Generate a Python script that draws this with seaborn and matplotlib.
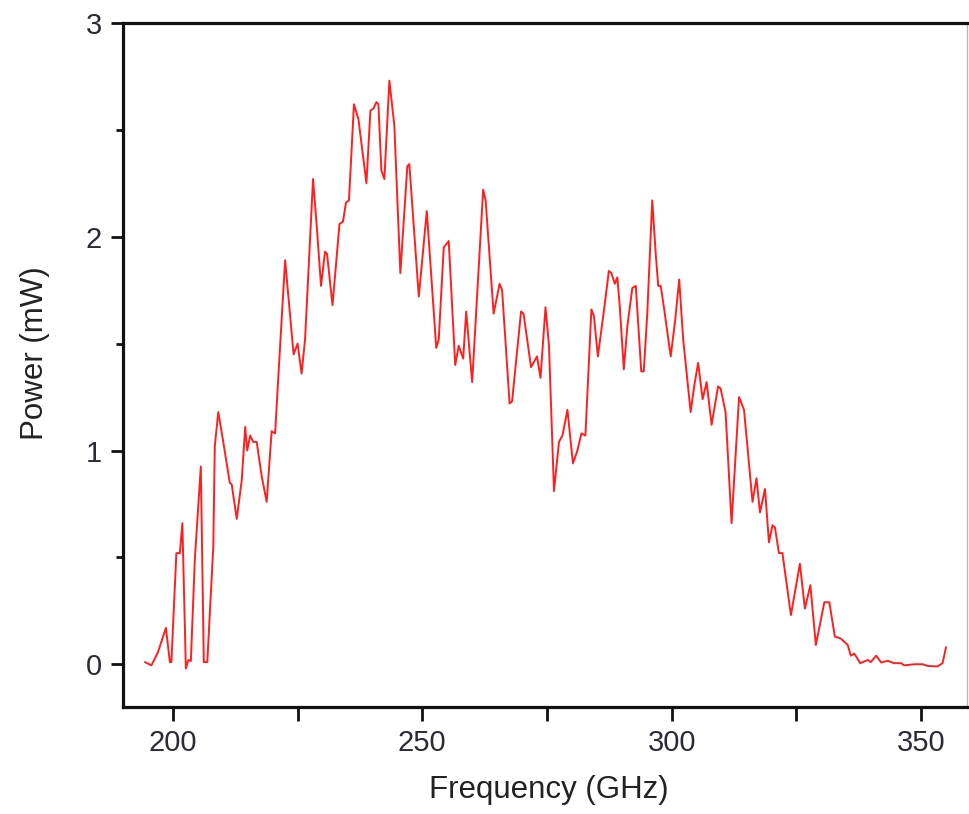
import matplotlib
matplotlib.use("Agg")
import matplotlib.pyplot as plt
import seaborn as sns
import pandas as pd
from matplotlib.ticker import MultipleLocator

# ---- data ----
freq_ghz = [194.4, 195.7, 197.0, 198.6, 199.4, 199.7, 200.7, 201.4, 201.9, 202.6,
            203.1, 203.6, 204.4, 205.6, 206.2, 206.9, 208.1, 208.4, 209.1, 210.1,
            211.4, 211.8, 212.8, 213.8, 214.5, 214.9, 215.5, 216.1, 216.8, 217.8,
            218.8, 219.8, 220.5, 221.1, 222.5, 224.2, 225.0, 225.8, 226.5, 228.1,
            228.9, 229.7, 230.5, 230.9, 232.0, 233.4, 234.1, 234.7, 235.3, 236.3,
            237.2, 238.8, 239.6, 240.2, 240.8, 241.2, 241.8, 242.4, 243.4, 244.4,
            245.6, 247.0, 247.4, 249.3, 250.9, 252.8, 253.3, 254.3, 255.3, 256.6,
            257.3, 258.2, 258.8, 260.0, 262.2, 262.7, 264.3, 265.5, 266.0, 267.5,
            268.0, 269.8, 270.3, 271.8, 273.0, 273.7, 274.7, 275.4, 276.4, 277.4,
            278.1, 279.1, 280.2, 281.1, 281.9, 282.7, 283.9, 284.4, 285.2, 286.5,
            287.4, 287.9, 288.6, 289.1, 289.6, 290.4, 291.1, 292.1, 292.8, 293.9,
            294.4, 295.1, 296.1, 296.8, 297.3, 297.8, 298.5, 299.8, 300.7, 301.5,
            302.3, 303.8, 304.5, 305.3, 306.2, 307.0, 308.0, 309.3, 309.8, 310.8,
            312.0, 313.5, 314.5, 316.2, 317.0, 317.7, 318.7, 319.5, 320.2, 320.7,
            321.5, 322.2, 323.9, 325.7, 326.7, 327.8, 328.9, 330.6, 331.6, 332.7,
            333.9, 335.3, 335.9, 336.6, 337.8, 339.3, 339.9, 341.0, 342.0, 343.3,
            344.6, 346.0, 346.6, 348.7, 350.3, 351.3, 353.3, 354.3, 355.0]

power_mw = [0.01, -0.005, 0.056, 0.17, 0.01, 0.01, 0.52, 0.52, 0.66, -0.02,
            0.02, 0.015, 0.49, 0.925, 0.01, 0.01, 0.55, 1.02, 1.18, 1.04,
            0.85, 0.84, 0.68, 0.86, 1.11, 1.00, 1.07, 1.04, 1.04, 0.88,
            0.76, 1.09, 1.08, 1.33, 1.89, 1.45, 1.50, 1.36, 1.52, 2.27,
            2.03, 1.77, 1.93, 1.92, 1.68, 2.06, 2.07, 2.16, 2.17, 2.62,
            2.55, 2.25, 2.59, 2.60, 2.63, 2.62, 2.31, 2.27, 2.73, 2.52,
            1.83, 2.33, 2.34, 1.72, 2.12, 1.48, 1.52, 1.95, 1.98, 1.40,
            1.49, 1.43, 1.65, 1.32, 2.22, 2.17, 1.64, 1.78, 1.75, 1.22,
            1.23, 1.65, 1.64, 1.39, 1.44, 1.34, 1.67, 1.49, 0.81, 1.04,
            1.07, 1.19, 0.94, 1.00, 1.08, 1.07, 1.66, 1.63, 1.44, 1.67,
            1.84, 1.83, 1.78, 1.81, 1.67, 1.38, 1.58, 1.76, 1.77, 1.37,
            1.37, 1.64, 2.17, 1.92, 1.77, 1.77, 1.66, 1.44, 1.61, 1.80,
            1.52, 1.18, 1.30, 1.41, 1.24, 1.32, 1.12, 1.30, 1.29, 1.18,
            0.66, 1.25, 1.19, 0.76, 0.87, 0.71, 0.82, 0.57, 0.65, 0.64,
            0.52, 0.52, 0.23, 0.47, 0.26, 0.37, 0.09, 0.29, 0.29, 0.13,
            0.12, 0.09, 0.04, 0.05, 0.005, 0.02, 0.01, 0.04, 0.008, 0.016,
            0.005, 0.005, -0.005, 0.0, 0.0, -0.008, -0.01, 0.005, 0.08]

x_ticks = [200, 250, 300, 350]
y_ticks = [0, 1, 2, 3]
x_label = "Frequency (GHz)"
y_label = "Power (mW)"

df = pd.DataFrame({"freq": freq_ghz, "power": power_mw})

sns.set_style("ticks")
plt.rcParams["font.family"] = ["Liberation Sans", "DejaVu Sans"]

W, H = 969, 814
fig = plt.figure(figsize=(W / 100, H / 100), dpi=100)
ax = fig.add_axes([123 / W, 1 - 707 / H, (967 - 123) / W, (707 - 23) / H])

sns.lineplot(data=df, x="freq", y="power", ax=ax, color="#ff1f1f",
             linewidth=1.4, estimator=None, sort=False)

ax.set_xlim(190, 359.2)
ax.set_ylim(-0.2, 3.0)
ax.set_xticks(x_ticks)
ax.set_yticks(y_ticks)
ax.xaxis.set_minor_locator(MultipleLocator(25))
ax.yaxis.set_minor_locator(MultipleLocator(0.5))
ax.set_xticklabels([str(t) for t in x_ticks])
ax.set_yticklabels([str(t) for t in y_ticks])

for s in ["left", "bottom", "top", "right"]:
    ax.spines[s].set_visible(True)
    ax.spines[s].set_linewidth(2.3)
    ax.spines[s].set_color("#111111")
ax.spines["right"].set_linewidth(1.0)
ax.spines["right"].set_color("#bbbbbb")

ax.tick_params(axis="x", which="major", direction="out", length=10, width=2.0,
               pad=6, labelsize=21, labelcolor="#2b2b38", color="#111111",
               top=False)
ax.tick_params(axis="x", which="minor", direction="out", length=10, width=2.0,
               color="#111111", top=False)
ax.tick_params(axis="y", which="major", direction="out", length=9, width=2.0,
               pad=6, labelsize=21, labelcolor="#2b2b38", color="#111111",
               right=False)
ax.tick_params(axis="y", which="minor", direction="out", length=5, width=2.0,
               color="#111111", right=False)

ax.set_xlabel(x_label, fontsize=22.5, color="#222222")
ax.set_ylabel(y_label, fontsize=22.5, color="#222222")
ax.xaxis.set_label_coords(0.504, -0.10)
ax.yaxis.set_label_coords(-0.087, 0.517)

fig.savefig("out.png", dpi=100)
